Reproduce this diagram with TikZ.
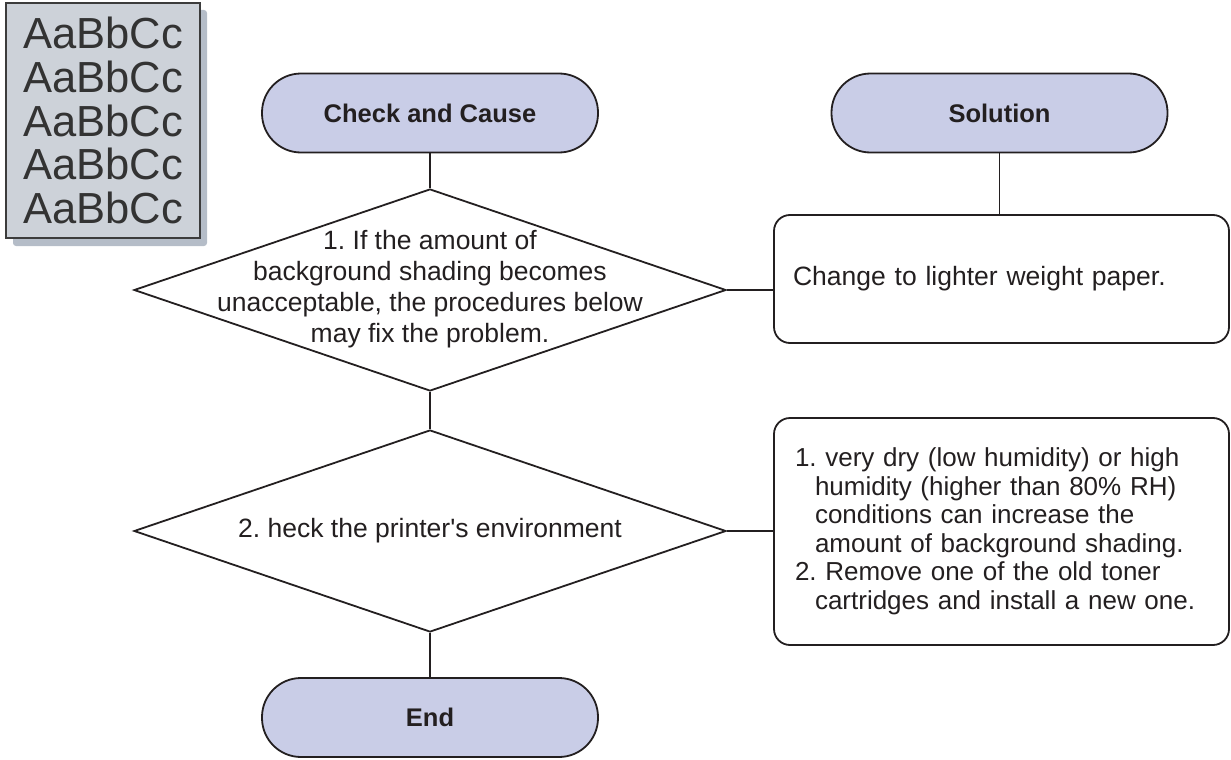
\documentclass[tikz,border=0pt]{standalone}
\usepackage{fontspec}
\setmainfont{Liberation Sans}
\usetikzlibrary{shapes.geometric}
\definecolor{ink}{HTML}{231F20}
\definecolor{termfill}{HTML}{C9CDE7}
\definecolor{samplefill}{HTML}{CDD2D9}
\definecolor{sampleshadow}{HTML}{B5BDC8}
\definecolor{sampletext}{HTML}{333333}
\definecolor{sampleedge}{HTML}{3C3C3C}
\frenchspacing
\begin{document}
\begin{tikzpicture}[x=1pt,y=-1pt,
  every node/.style={text=ink},
  terminal/.style={draw=ink, line width=1.8pt, fill=termfill, rounded corners=39pt,
    minimum width=336pt, minimum height=79pt, inner sep=0pt,
    font=\fontsize{25.5}{30}\selectfont\bfseries},
  decision/.style={draw=ink, line width=1.8pt, shape=diamond,
    minimum width=592pt, minimum height=202pt, inner sep=0pt},
  dtext/.style={align=center, inner sep=0pt, font=\fontsize{26.5}{31}\selectfont},
  solbox/.style={draw=ink, line width=1.8pt, rounded corners=16pt, align=left,
    inner ysep=0pt},
  link/.style={draw=ink, line width=1.8pt}]
\useasboundingbox (0,0) rectangle (1231,760);
% sample page
\fill[sampleshadow, rounded corners=3pt] (13,10) rectangle (207,246);
\node[draw=sampleedge, line width=1.5pt, fill=samplefill, minimum width=194pt,
  minimum height=235pt, inner sep=0pt, align=center, text=sampletext,
  font=\fontsize{43.5}{43.6}\selectfont] (sample) at (103,120.5)
  {AaBbCc\\AaBbCc\\AaBbCc\\AaBbCc\\AaBbCc};
% terminals
\node[terminal] (check) at (430,113) {Check and Cause};
\node[terminal] (sol) at (999.5,113) {Solution};
\node[terminal] (end) at (430,717.5) {End};
% decisions
\node[decision] (d1) at (430,290) {};
\node[dtext] (t1) at (430,289) {1. If the amount of\\background shading becomes\\unacceptable, the procedures below\\may fix the problem.};
\node[decision] (d2) at (430,531) {};
\node[dtext] (t2) at (430,531) {2. heck the printer\textquotesingle s environment};
% solution boxes
\node[solbox, minimum height=128pt, text width=417pt, inner xsep=19pt,
  font=\fontsize{26.5}{31}\selectfont] (s1) at (1001.5,279)
  {Change to lighter weight paper.};
\node[solbox, minimum height=227pt, text width=413pt, inner xsep=21pt,
  font=\fontsize{26}{28.5}\selectfont] (s2) at (1001.5,531.5)
  {1. very dry (low humidity) or high\\
   \hspace*{20pt}humidity (higher than 80\% RH)\\
   \hspace*{20pt}conditions can increase the\\
   \hspace*{20pt}amount of background shading.\\
   2. Remove one of the old toner\\
   \hspace*{20pt}cartridges and install a new one.};
% connectors
\draw[link] (check) -- (d1);
\draw[link] (sol.south) -- (sol.south |- s1.north);
\draw[link] (d1.east) -- (d1.east -| s1.west);
\draw[link] (d1) -- (d2);
\draw[link] (d2.east) -- (d2.east -| s2.west);
\draw[link] (d2) -- (end);
\end{tikzpicture}
\end{document}
